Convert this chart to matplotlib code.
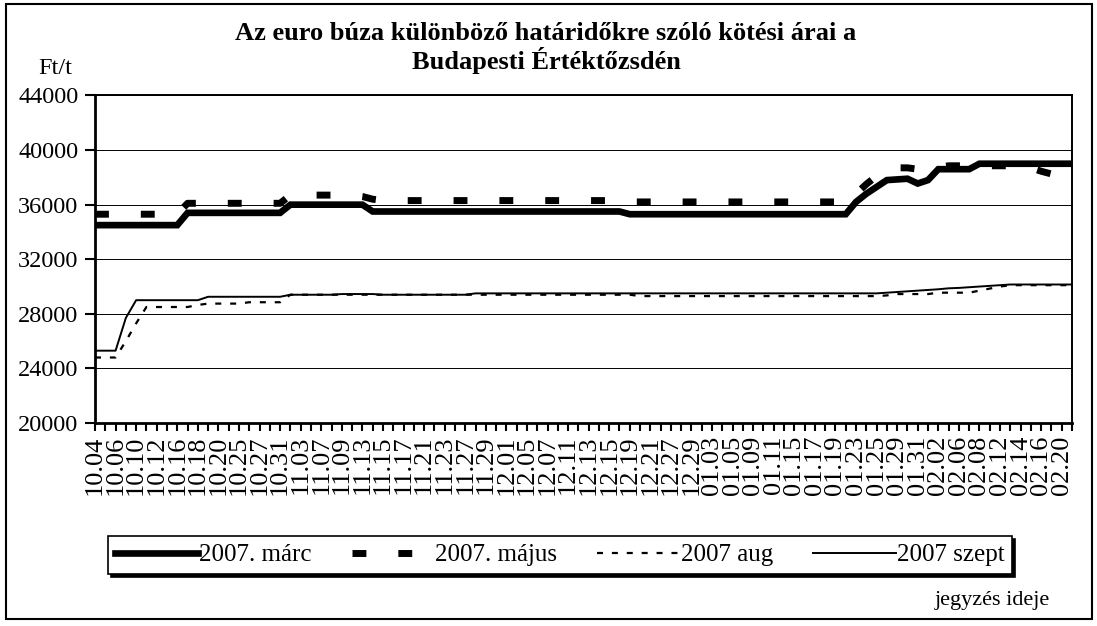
import matplotlib
matplotlib.use("Agg")
import matplotlib.pyplot as plt
from matplotlib.patches import Rectangle

# trading days (every second one is labelled on the axis)
dates = [
    "10.04", "10.05", "10.06", "10.09", "10.10", "10.11", "10.12", "10.13",
    "10.16", "10.17", "10.18", "10.19", "10.20", "10.24", "10.25", "10.26",
    "10.27", "10.30", "10.31", "11.02", "11.03", "11.06", "11.07", "11.08",
    "11.09", "11.10", "11.13", "11.14", "11.15", "11.16", "11.17", "11.20",
    "11.21", "11.22", "11.23", "11.24", "11.27", "11.28", "11.29", "11.30",
    "12.01", "12.04", "12.05", "12.06", "12.07", "12.08", "12.11", "12.12",
    "12.13", "12.14", "12.15", "12.18", "12.19", "12.20", "12.21", "12.22",
    "12.27", "12.28", "12.29", "01.02", "01.03", "01.04", "01.05", "01.08",
    "01.09", "01.10", "01.11", "01.12", "01.15", "01.16", "01.17", "01.18",
    "01.19", "01.22", "01.23", "01.24", "01.25", "01.26", "01.29", "01.30",
    "01.31", "02.01", "02.02", "02.05", "02.06", "02.07", "02.08", "02.09",
    "02.12", "02.13", "02.14", "02.15", "02.16", "02.19", "02.20", "02.21",
]

marc = [
    34500, 34500, 34500, 34500, 34500, 34500, 34500, 34500, 34500, 35400,
    35400, 35400, 35400, 35400, 35400, 35400, 35400, 35400, 35400, 36000,
    36000, 36000, 36000, 36000, 36000, 36000, 36000, 35500, 35500, 35500,
    35500, 35500, 35500, 35500, 35500, 35500, 35500, 35500, 35500, 35500,
    35500, 35500, 35500, 35500, 35500, 35500, 35500, 35500, 35500, 35500,
    35500, 35500, 35300, 35300, 35300, 35300, 35300, 35300, 35300, 35300,
    35300, 35300, 35300, 35300, 35300, 35300, 35300, 35300, 35300, 35300,
    35300, 35300, 35300, 35300, 36200, 36800, 37300, 37800, 37850, 37900,
    37550, 37800, 38600, 38600, 38600, 38600, 39000, 39000, 39000, 39000,
    39000, 39000, 39000, 39000, 39000, 39000,
]

majus = [
    35300, 35300, 35300, 35300, 35300, 35300, 35300, 35300, 35300, 36100,
    36100, 36100, 36100, 36100, 36100, 36100, 36100, 36100, 36100, 36700,
    36700, 36700, 36700, 36700, 36700, 36700, 36600, 36400, 36300, 36300,
    36300, 36300, 36300, 36300, 36300, 36300, 36300, 36300, 36300, 36300,
    36300, 36300, 36300, 36300, 36300, 36300, 36300, 36300, 36300, 36300,
    36300, 36200, 36200, 36200, 36200, 36200, 36200, 36200, 36200, 36200,
    36200, 36200, 36200, 36200, 36200, 36200, 36200, 36200, 36200, 36200,
    36200, 36200, 36200, 36200, 36800, 37500, 38100, 38500, 38700, 38700,
    38600, 38600, 38750, 38850, 38850, 38850, 38850, 38850, 38850, 38850,
    38850, 38700, 38450, 38250, 38100, 38100,
]

aug = [
    24800, 24800, 24800, 26000, 27300, 28500, 28500, 28500, 28500, 28500,
    28650, 28750, 28750, 28750, 28750, 28850, 28850, 28850, 28850, 29400,
    29400, 29400, 29400, 29400, 29400, 29400, 29400, 29400, 29400, 29400,
    29400, 29400, 29400, 29400, 29400, 29400, 29400, 29400, 29400, 29400,
    29400, 29400, 29400, 29400, 29400, 29400, 29400, 29400, 29400, 29400,
    29400, 29400, 29400, 29300, 29300, 29300, 29300, 29300, 29300, 29300,
    29300, 29300, 29300, 29300, 29300, 29300, 29300, 29300, 29300, 29300,
    29300, 29300, 29300, 29300, 29300, 29300, 29300, 29350, 29450, 29450,
    29450, 29450, 29550, 29550, 29550, 29550, 29700, 29850, 30000, 30100,
    30100, 30100, 30100, 30100, 30100, 30100,
]

szept = [
    25300, 25300, 25300, 27700, 29000, 29000, 29000, 29000, 29000, 29000,
    29000, 29250, 29250, 29250, 29250, 29250, 29250, 29250, 29250, 29400,
    29400, 29400, 29400, 29400, 29450, 29450, 29450, 29450, 29400, 29400,
    29400, 29400, 29400, 29400, 29400, 29400, 29400, 29500, 29500, 29500,
    29500, 29500, 29500, 29500, 29500, 29500, 29500, 29500, 29500, 29500,
    29500, 29500, 29500, 29500, 29500, 29500, 29500, 29500, 29500, 29500,
    29500, 29500, 29500, 29500, 29500, 29500, 29500, 29500, 29500, 29500,
    29500, 29500, 29500, 29500, 29500, 29500, 29500, 29550, 29600, 29650,
    29700, 29750, 29800, 29870, 29900, 29950, 30000, 30050, 30100, 30150,
    30150, 30150, 30150, 30150, 30150, 30150,
]

series_names = ["2007. márc", "2007. május", "2007 aug", "2007 szept"]
y_ticks = [20000, 24000, 28000, 32000, 36000, 40000, 44000]

plt.rcParams["font.family"] = ["Liberation Serif", "DejaVu Serif"]

W, H = 1097, 626
fig = plt.figure(figsize=(W / 100, H / 100), dpi=100)

# outer chart frame
fig.patches.append(Rectangle((6 / W, 1 - 619 / H), 1086 / W, 615 / H,
                             transform=fig.transFigure, fill=False,
                             edgecolor="black", linewidth=1.5))

ax = fig.add_axes([95 / W, 1 - 423 / H, 977 / W, 327.5 / H])
x = list(range(len(dates)))

ax.plot(x, marc, color="black", linewidth=4.8, solid_joinstyle="miter",
        label=series_names[0], zorder=4)
ax.plot(x, majus, color="black", linewidth=5, linestyle=(0, (2, 4.6)),
        dash_capstyle="butt", label=series_names[1], zorder=3)
ax.plot(x, aug, color="black", linewidth=1.6, linestyle=(0, (2.7, 4.0)),
        label=series_names[2], zorder=3)
ax.plot(x, szept, color="black", linewidth=1.4, label=series_names[3], zorder=3)

ax.set_xlim(0, len(dates) - 1)
ax.set_ylim(20000, 44000)
ax.set_yticks(y_ticks)
ax.set_yticklabels([str(v) for v in y_ticks], fontsize=17.5)
ax.set_xticks(x)
ax.set_xticklabels([d if i % 2 == 0 else "" for i, d in enumerate(dates)],
                   rotation=90, fontsize=19)
ax.tick_params(axis="y", direction="out", length=7, width=1.5, pad=5)
ax.tick_params(axis="x", direction="out", length=6, width=1.5, pad=3)

ax.grid(axis="y", color="black", linewidth=0.7)
ax.set_axisbelow(True)
for side in ["left", "bottom"]:
    ax.spines[side].set_linewidth(2.0)
for side in ["top", "right"]:
    ax.spines[side].set_linewidth(1.4)

fig.text(546 / W, 1 - 33 / H, "Az euro búza különböző határidőkre szóló kötési árai a",
         ha="center", va="center", fontsize=19, fontweight="bold")
fig.text(546 / W, 1 - 60 / H, "Budapesti Értéktőzsdén",
         ha="center", va="center", fontsize=19, fontweight="bold")
fig.text(72 / W, 1 - 68 / H, "Ft/t", ha="right", va="center", fontsize=17.5)
fig.text(1050 / W, 1 - 600 / H, "jegyzés ideje", ha="right", va="center", fontsize=16)

leg = fig.legend(loc="center", bbox_to_anchor=(560 / W, 1 - 555 / H), ncol=4,
                 fontsize=18, frameon=True, fancybox=False, handlelength=3.3,
                 handletextpad=0.05, columnspacing=1.6, borderpad=0.3,
                 shadow={"color": "black", "alpha": 1.0, "ox": 2, "oy": -2})
leg.get_frame().set_edgecolor("black")
leg.get_frame().set_linewidth(1.2)

fig.savefig("out.png", dpi=100)
